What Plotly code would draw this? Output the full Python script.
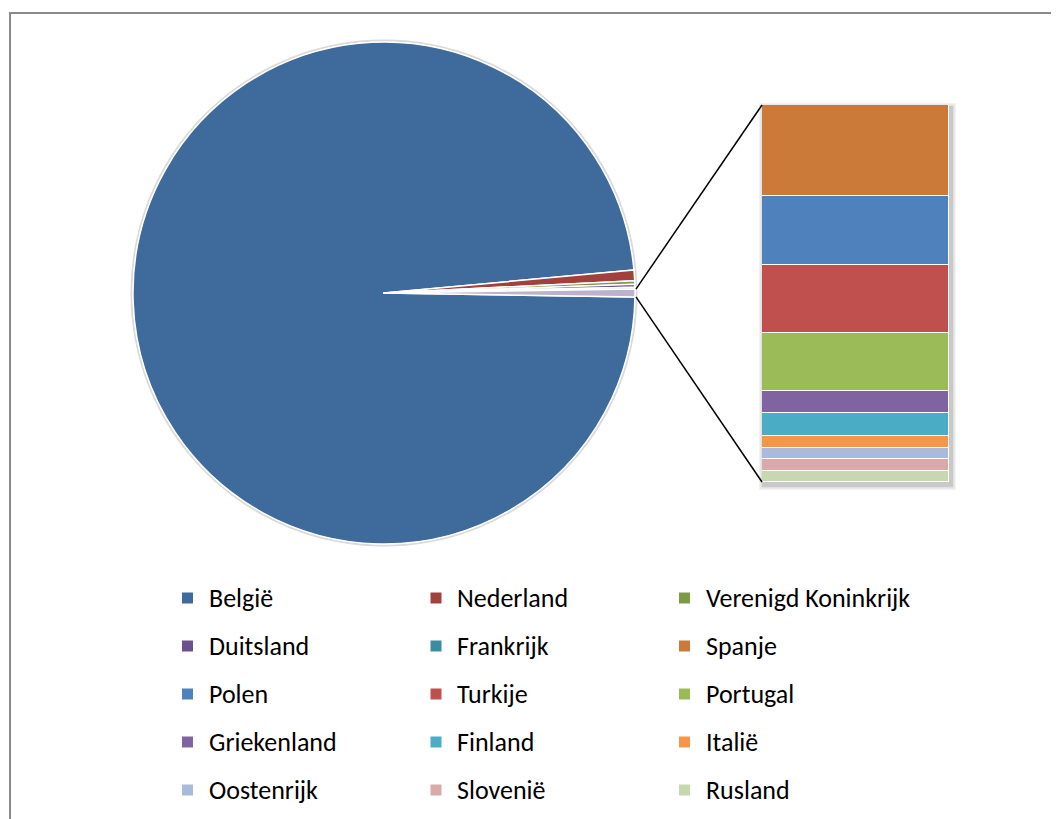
import math
import plotly.graph_objects as go

W, H = 1059, 819
OFF = 8  # page body margin: viewport pixel = figure pixel + OFF

# ---- data ----
pie_labels = ["België", "Nederland", "Verenigd Koninkrijk", "Duitsland", "Frankrijk"]
pie_values = [6500, 45, 15, 12, 8]
pie_colors = ["#3F6A9C", "#A2403D", "#7E9A48", "#6A528A", "#3A8CA1"]
other_color = "#BBB2CD"

bar_labels = ["Spanje", "Polen", "Turkije", "Portugal", "Griekenland",
              "Finland", "Italië", "Oostenrijk", "Slovenië", "Rusland"]
bar_values = [8, 6, 6, 5, 2, 2, 1, 1, 1, 1]
bar_colors = ["#CB7A39", "#4F81BD", "#C0504D", "#9BBB59", "#8064A2",
              "#4BACC6", "#F79646", "#A9BADB", "#DBA9A8", "#C7D8B0"]

other_total = sum(bar_values)
total = sum(pie_values) + other_total

# ---- geometry (viewport pixels) ----
cx, cy, r = 384, 293, 251
bar_px = (762, 949, 105, 482)  # x0, x1, ytop, ybottom

def px_x(x):
    return (x - OFF) / W

def px_y(y):
    return 1 - (y - OFF) / H

fig = go.Figure()

other_deg = other_total / total * 360.0
fig.add_trace(go.Pie(
    labels=pie_labels + ["Overige"],
    values=pie_values + [other_total],
    marker=dict(colors=pie_colors + [other_color], line=dict(color="white", width=1.5)),
    sort=False,
    direction="clockwise",
    rotation=90 + other_deg / 2,
    textinfo="none",
    hoverinfo="label+value",
    showlegend=False,
    domain=dict(x=[px_x(cx - r), px_x(cx + r)], y=[px_y(cy + r), px_y(cy - r)]),
))

# stacked bar (bottom = last category)
for lab, val, col in reversed(list(zip(bar_labels, bar_values, bar_colors))):
    fig.add_trace(go.Bar(
        x=[0], y=[val], name=lab, width=1,
        marker=dict(color=col, line=dict(color="white", width=1.5)),
        showlegend=False, xaxis="x", yaxis="y",
    ))

fig.update_layout(
    barmode="stack",
    bargap=0,
    width=W, height=H,
    margin=dict(l=0, r=0, t=0, b=0),
    paper_bgcolor="white",
    plot_bgcolor="rgba(0,0,0,0)",
    xaxis=dict(domain=[px_x(bar_px[0]), px_x(bar_px[1])], range=[-0.5, 0.5],
               visible=False, fixedrange=True),
    yaxis=dict(domain=[px_y(bar_px[3]), px_y(bar_px[2])], range=[0, other_total],
               visible=False, fixedrange=True),
)

shapes = []
# outer frame
shapes.append(dict(type="rect", xref="paper", yref="paper",
                   x0=px_x(10), x1=px_x(W + OFF + 5), y0=px_y(H + OFF + 5), y1=px_y(13),
                   line=dict(color="#8A8A8A", width=2), fillcolor="rgba(0,0,0,0)", layer="below"))
# soft pie rim
shapes.append(dict(type="circle", xref="paper", yref="paper",
                   x0=px_x(cx - r - 1.5), x1=px_x(cx + r + 1.5),
                   y0=px_y(cy + r + 1.5), y1=px_y(cy - r - 1.5),
                   line=dict(color="#DADADA", width=2), fillcolor="rgba(0,0,0,0)", layer="below"))
# soft bar shadow (layered)
for grow, alpha in ((5, 0.05), (3.5, 0.07), (2, 0.10)):
    shapes.append(dict(type="rect", xref="paper", yref="paper",
                       x0=px_x(bar_px[0] + 2 - grow), x1=px_x(bar_px[1] + 2 + grow),
                       y0=px_y(bar_px[3] + 3 + grow), y1=px_y(bar_px[2] + 3 - grow),
                       line=dict(width=0), fillcolor=f"rgba(0,0,0,{alpha})", layer="below"))
# connector lines
a = math.radians(other_deg / 2)
for sgn, ybar in ((1, bar_px[2]), (-1, bar_px[3])):
    xs = cx + r * math.cos(a)
    ys = cy - sgn * r * math.sin(a)
    shapes.append(dict(type="line", xref="paper", yref="paper",
                       x0=px_x(xs + 1), y0=px_y(ys), x1=px_x(bar_px[0]), y1=px_y(ybar),
                       line=dict(color="black", width=1.5)))

# legend (3 columns x 5 rows)
legend_labels = pie_labels + bar_labels
legend_colors = pie_colors + bar_colors
col_x = [187.5, 436, 684.5]
row_y0, row_step = 598, 48
ms = 11
annotations = []
for i, (lab, col) in enumerate(zip(legend_labels, legend_colors)):
    c, rr = i % 3, i // 3
    mx, my = col_x[c], row_y0 + rr * row_step
    shapes.append(dict(type="rect", xref="paper", yref="paper",
                       x0=px_x(mx - ms / 2), x1=px_x(mx + ms / 2),
                       y0=px_y(my + ms / 2), y1=px_y(my - ms / 2),
                       line=dict(width=0), fillcolor=col))
    annotations.append(dict(xref="paper", yref="paper", x=px_x(mx + 19), y=px_y(my),
                            text=lab, showarrow=False, xanchor="left", yanchor="middle",
                            font=dict(family="Carlito, Lato, sans-serif", size=26, color="black")))

fig.update_layout(shapes=shapes, annotations=annotations)
fig.write_html("out.html")
